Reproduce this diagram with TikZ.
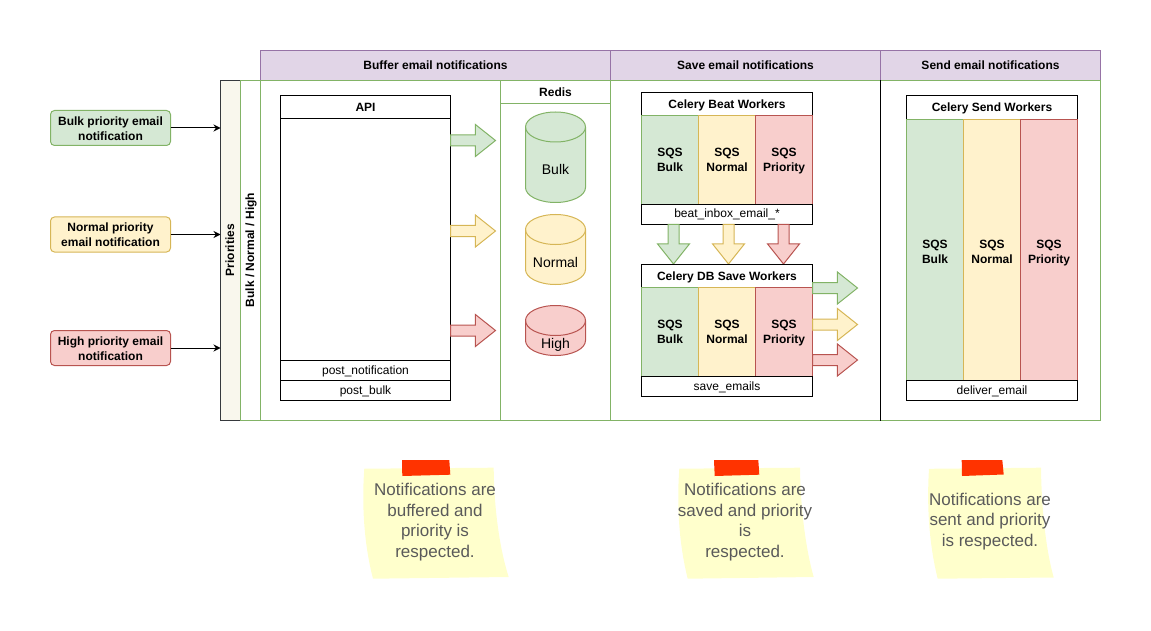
\documentclass[tikz,border=0pt]{standalone}
\usepackage{fontspec}
\setmainfont{Liberation Sans}
\usetikzlibrary{arrows.meta}
\usetikzlibrary{shapes.arrows}

\definecolor{greenfill}{HTML}{D5E8D4}
\definecolor{greenline}{HTML}{82B366}
\definecolor{yellowfill}{HTML}{FFF2CC}
\definecolor{yellowline}{HTML}{D6B656}
\definecolor{redfill}{HTML}{F8CECC}
\definecolor{redline}{HTML}{B85450}
\definecolor{purplefill}{HTML}{E1D5E7}
\definecolor{purpleline}{HTML}{9673A6}
\definecolor{priorityfill}{HTML}{F9F7ED}
\definecolor{priorityline}{HTML}{36393D}
\definecolor{notefill}{HTML}{FFFFCC}
\definecolor{tapefill}{HTML}{FF3300}
\definecolor{notetext}{HTML}{5A5A5A}

% two centred lines, the first raised by the height given
\newcommand{\twolines}[3]{\rule{0pt}{#1pt}#2\\#3\rule[-3pt]{0pt}{3pt}}

\tikzset{
    frame/.style={draw, line width=1pt, inner sep=0pt, outer sep=0pt, anchor=north west, align=center},
    box/.style={frame, font=\fontsize{12}{15}\selectfont,
        execute at begin node={\rule[-4pt]{0pt}{15pt}},
        execute at end node={\rule[-4pt]{0pt}{15pt}}},
    boldbox/.style={frame, font=\fontsize{12}{15}\selectfont\bfseries,
        execute at begin node={\rule[-3pt]{0pt}{15pt}},
        execute at end node={\rule[-3pt]{0pt}{15pt}}},
    stagehead/.style={boldbox, draw=purpleline, fill=purplefill, minimum height=30pt},
    lane/.style={boldbox, draw=greenline, minimum height=340pt},
    cell/.style={frame, font=\fontsize{12}{15}\selectfont\bfseries, minimum width=57pt},
    greencell/.style={cell, draw=greenline, fill=greenfill},
    yellowcell/.style={cell, draw=yellowline, fill=yellowfill},
    redcell/.style={cell, draw=redline, fill=redfill},
    message/.style={frame, font=\fontsize{12}{15}\selectfont\bfseries, anchor=center,
        rounded corners=4pt, minimum width=120pt, minimum height=35pt},
    flowarrow/.style={single arrow, draw, line width=1pt, inner sep=5pt, outer sep=0pt,
        minimum width=31pt, single arrow head extend=10.5pt, single arrow tip angle=77,
        anchor=tail},
    drumarc/.style={x radius=30pt, y radius=15pt},
    drumlabel/.style={font=\fontsize{14}{16}\selectfont, inner sep=0pt,
        text height=10pt, text depth=3pt},
    notelabel/.style={align=center, text=notetext, inner sep=0pt,
        font=\fontsize{17}{20.5}\selectfont},
    feed/.style={-{Stealth[length=7pt,width=7pt]}, line width=1pt}
}

\begin{document}
\begin{tikzpicture}[x=1pt, y=-1pt]
    \useasboundingbox (0,0) rectangle (1151,631);

    % stage headers
    \node[stagehead, minimum width=350pt] (bufferhead) at (260.5,50.5) {Buffer email notifications};
    \node[stagehead, minimum width=270pt] (savehead) at (610.5,50.5) {Save email notifications};
    \node[stagehead, minimum width=220pt] (sendhead) at (880.5,50.5) {Send email notifications};

    % lanes
    \node[lane, draw=priorityline, fill=priorityfill, minimum width=20pt] (priorities) at (220.5,80.5) {};
    \node[boldbox, draw=none, rotate=90, anchor=center] (prioritiestext) at (229.5,250) {Priorities};
    \node[lane, minimum width=20pt] (levels) at (240.5,80.5) {};
    \node[boldbox, draw=none, rotate=90, anchor=center] (levelstext) at (249.5,250) {Bulk / Normal / High};
    \node[lane, minimum width=240pt] (bufferlane) at (260.5,80.5) {};
    \node[lane, minimum width=110pt] (redislane) at (500.5,80.5) {};
    \node[boldbox, draw=greenline, minimum width=110pt, minimum height=23pt] (redishead) at (500.5,80.5) {Redis};
    \node[lane, minimum width=270pt] (savelane) at (610.5,80.5) {};
    \node[lane, minimum width=220pt] (sendlane) at (880.5,80.5) {};
    \draw[line width=1pt] (sendlane.north west) -- (sendlane.south west);

    % incoming notifications
    \node[message, draw=greenline, fill=greenfill] (bulkmessage) at (110.5,128) {\twolines{13}{Bulk priority email}{notification}};
    \node[message, draw=yellowline, fill=yellowfill] (normalmessage) at (110.5,234.5) {\twolines{13}{Normal priority}{email notification}};
    \node[message, draw=redline, fill=redfill] (highmessage) at (110.5,348) {\twolines{13}{High priority email}{notification}};
    \draw[feed] (bulkmessage.east) -- (bulkmessage.east -| priorities.west);
    \draw[feed] (normalmessage.east) -- (normalmessage.east -| priorities.west);
    \draw[feed] (highmessage.east) -- (highmessage.east -| priorities.west);

    % api
    \node[boldbox, minimum width=170pt, minimum height=23pt] (apihead) at (280.5,95.5) {API};
    \node[box, minimum width=170pt, minimum height=242pt] (apibody) at (280.5,118.5) {};
    \node[box, minimum width=170pt, minimum height=20pt] (postnotification) at (280.5,360.5) {post\_notification};
    \node[box, minimum width=170pt, minimum height=20pt] (postbulk) at (280.5,380.5) {post\_bulk};

    \node[flowarrow, draw=greenline, fill=greenfill, minimum height=45pt] (apibulk) at (450.5,140.5) {};
    \node[flowarrow, draw=yellowline, fill=yellowfill, minimum height=45pt] (apinormal) at (450.5,231) {};
    \node[flowarrow, draw=redline, fill=redfill, minimum height=45pt] (apihigh) at (450.5,330.5) {};

    % redis
    \draw[line width=1pt, draw=greenline, fill=greenfill] (525.5,127) arc[drumarc, start angle=180, end angle=0]
        -- (585.5,187.5) arc[drumarc, start angle=0, end angle=-180] -- cycle;
    \draw[line width=1pt, draw=greenline] (525.5,127) arc[drumarc, start angle=180, end angle=360];
    \draw[line width=1pt, draw=yellowline, fill=yellowfill] (525.5,229.5) arc[drumarc, start angle=180, end angle=0]
        -- (585.5,269.5) arc[drumarc, start angle=0, end angle=-180] -- cycle;
    \draw[line width=1pt, draw=yellowline] (525.5,229.5) arc[drumarc, start angle=180, end angle=360];
    \draw[line width=1pt, draw=redline, fill=redfill] (525.5,320.5) arc[drumarc, start angle=180, end angle=0]
        -- (585.5,340.5) arc[drumarc, start angle=0, end angle=-180] -- cycle;
    \draw[line width=1pt, draw=redline] (525.5,320.5) arc[drumarc, start angle=180, end angle=360];
    \node[drumlabel] (bulkstoretext) at (555.5,170.8) {Bulk};
    \node[drumlabel] (normalstoretext) at (555.5,263.5) {Normal};
    \node[drumlabel] (highstoretext) at (555.5,344.8) {High};

    % beat workers
    \node[boldbox, minimum width=171pt, minimum height=23pt] (beathead) at (641.5,92.5) {Celery Beat Workers};
    \node[greencell, minimum height=89pt] (beatbulk) at (641.5,115.5) {\twolines{12}{SQS}{Bulk}};
    \node[yellowcell, minimum height=89pt] (beatnormal) at (698.5,115.5) {\twolines{12}{SQS}{Normal}};
    \node[redcell, minimum height=89pt] (beatpriority) at (755.5,115.5) {\twolines{12}{SQS}{Priority}};
    \node[box, minimum width=171pt, minimum height=20pt] (beattask) at (641.5,204.5) {beat\_inbox\_email\_*};

    \node[flowarrow, draw=greenline, fill=greenfill, shape border rotate=270, minimum height=39.5pt] (beatdownbulk) at (673.5,224.5) {};
    \node[flowarrow, draw=yellowline, fill=yellowfill, shape border rotate=270, minimum height=39.5pt] (beatdownnormal) at (728.5,224.5) {};
    \node[flowarrow, draw=redline, fill=redfill, shape border rotate=270, minimum height=39.5pt] (beatdownhigh) at (783.5,224.5) {};

    % db save workers
    \node[boldbox, minimum width=171pt, minimum height=23pt] (savehd) at (641.5,264.5) {Celery DB Save Workers};
    \node[greencell, minimum height=89pt] (savebulk) at (641.5,287.5) {\twolines{10}{SQS}{Bulk}};
    \node[yellowcell, minimum height=89pt] (savenormal) at (698.5,287.5) {\twolines{10}{SQS}{Normal}};
    \node[redcell, minimum height=89pt] (savepriority) at (755.5,287.5) {\twolines{10}{SQS}{Priority}};
    \node[box, minimum width=171pt, minimum height=20pt] (savetask) at (641.5,376.5) {save\_emails};

    \node[flowarrow, draw=greenline, fill=greenfill, minimum height=45pt] (saveoutbulk) at (812.5,288) {};
    \node[flowarrow, draw=yellowline, fill=yellowfill, minimum height=45pt] (saveoutnormal) at (812.5,324.5) {};
    \node[flowarrow, draw=redline, fill=redfill, minimum height=45pt] (saveouthigh) at (812.5,360) {};

    % send workers
    \node[boldbox, minimum width=171pt, minimum height=24pt] (sendhd) at (906.5,95.5) {Celery Send Workers};
    \node[greencell, minimum height=261pt] (sendbulk) at (906.5,119.5) {\twolines{14}{SQS}{Bulk}};
    \node[yellowcell, minimum height=261pt] (sendnormal) at (963.5,119.5) {\twolines{14}{SQS}{Normal}};
    \node[redcell, minimum height=261pt] (sendpriority) at (1020.5,119.5) {\twolines{14}{SQS}{Priority}};
    \node[box, minimum width=171pt, minimum height=20pt] (sendtask) at (906.5,380.5) {deliver\_email};

    % sticky notes
    \fill[notefill] (364.3,468.7) -- (493.7,467.7) .. controls (494,510) and (500,550) .. (508.7,577)
        -- (373,578.7) .. controls (363,540) and (362,500) .. cycle;
    \fill[tapefill] (402,460) -- (449.3,460) -- (450.3,474.7) -- (402.3,476) -- cycle;
    \node[notelabel] (buffernote) at (435,522) {Notifications are\\buffered and\\priority is\\respected.};

    \fill[notefill] (679.3,468.7) -- (800,467.7) .. controls (800.5,510) and (806,550) .. (813.7,577)
        -- (687.7,578.7) .. controls (678,540) and (677,500) .. cycle;
    \fill[tapefill] (714,460) -- (758.3,460) -- (759.3,474.7) -- (714.7,476) -- cycle;
    \node[notelabel] (savenote) at (745,522) {Notifications are\\saved and priority\\is\\respected.};

    \fill[notefill] (929,468.8) -- (1041,467.7) .. controls (1041.5,510) and (1046,550) .. (1053.7,577.5)
        -- (937.7,578.7) .. controls (928,540) and (927,500) .. cycle;
    \fill[tapefill] (961.7,460) -- (1002.3,460) -- (1003.7,474.5) -- (962,476) -- cycle;
    \node[notelabel] (sendnote) at (990,521.5) {Notifications are\\sent and priority\\is respected.};
\end{tikzpicture}
\end{document}
